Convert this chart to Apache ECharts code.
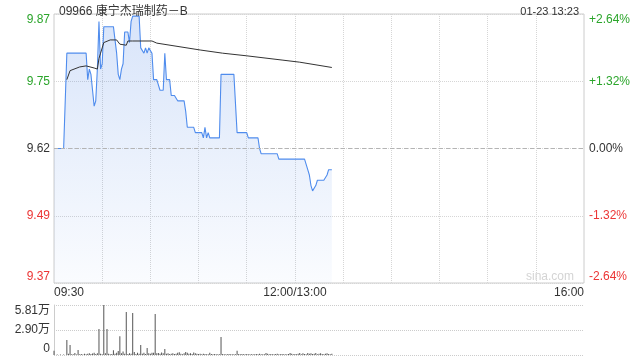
<!DOCTYPE html>
<html><head><meta charset="utf-8">
<script src="https://cdn.jsdelivr.net/npm/echarts@6/dist/echarts.min.js"></script>
<style>html,body{margin:0;padding:0;background:#fff}#c{width:640px;height:360px}</style>
</head><body><div id="c"></div>
<script>
const chartTitle = '09966 康宁杰瑞制药－B';
const stamp = '01-23 13:23';
const prevClose = 9.62;
const pctRange = 2.64;
const pctInterval = 1.32;
const timeTickLabels = { 0: '09:30', 150: '12:00/13:00', 330: '16:00' };

// price per minute from 09:30 (index 0)
const prices = [
  9.62,9.62,9.62,9.62,9.62,9.62,9.62,9.62,
  9.80,9.80,9.80,9.80,9.80,9.80,9.80,9.80,9.80,9.80,9.80,9.80,9.80,
  9.75,9.77,9.76,9.73,9.70,9.71,9.77,9.86,9.77,9.78,
  9.85,9.85,9.85,9.85,9.85,9.85,9.85,9.85,
  9.80,9.76,9.75,9.77,9.78,9.84,9.84,9.84,9.82,9.86,
  9.87,9.87,9.87,9.87,9.87,
  9.81,9.81,9.80,9.81,9.80,9.81,9.81,9.80,
  9.75,9.75,9.75,9.75,
  9.73,9.73,9.73,
  9.80,
  9.75,9.75,9.75,
  9.72,9.72,9.72,9.72,
  9.71,9.71,9.71,9.71,9.71,
  9.69,
  9.66,9.66,9.66,9.66,9.66,
  9.65,9.65,9.65,9.65,9.65,
  9.64,9.66,9.64,9.65,
  9.64,9.64,9.64,9.64,9.64,9.64,9.64,
  9.76,9.76,9.76,9.76,9.76,9.76,9.76,9.76,9.76,9.76,
  9.65,9.65,9.65,9.65,9.65,9.65,9.65,
  9.64,9.64,9.64,9.64,9.64,9.64,9.64,
  9.62,
  9.61,9.61,9.61,9.61,9.61,9.61,9.61,9.61,9.61,9.61,9.61,
  9.60,9.60,9.60,9.60,9.60,9.60,9.60,9.60,9.60,9.60,9.60,9.60,9.60,9.60,9.60,9.60,9.60,9.60,
  9.58,9.57,9.55,
  9.54,9.54,
  9.55,
  9.56,9.56,9.56,9.56,9.56,9.56,
  9.57,
  9.58,9.58,9.58
];

// average price line, read at selected minutes
const avgMinutes = [8,10,16,20,25,27,28,29,31,35,39,41,45,46,49,61,64,91,105,120,142,153,173];
const avgValues  = [9.750,9.767,9.774,9.776,9.772,9.770,9.790,9.800,9.820,9.825,9.825,9.817,9.815,9.823,9.823,9.823,9.819,9.806,9.800,9.795,9.787,9.783,9.773];

const volumes = [
  5000,0,500,0,600,0,500,0,
  17400,1500,11600,1000,800,2300,600,5800,800,1200,700,1500,1000,
  1500,2000,1200,1800,2700,1200,2000,30200,1500,1000,
  58100,2000,30200,1500,800,1200,5400,1500,
  2500,4600,21700,2000,4000,1500,50000,1200,2000,1500,
  48800,3500,1200,2500,1500,
  11600,1500,2500,1200,8000,2000,1500,2500,
  2500,47600,2000,2300,
  1500,2800,2000,
  7000,
  1500,2000,1200,
  1500,2000,1200,1500,
  2500,3200,1500,1000,2000,
  3500,
  2500,1500,2000,1200,3000,
  2000,1500,1200,1500,1000,
  1500,1200,1000,1000,
  2700,1200,1000,1200,800,1000,800,
  20900,1200,1000,800,1000,1200,800,1000,800,1000,
  5000,1200,1000,1200,800,1000,1200,
  800,1000,1000,800,1000,1200,800,
  1500,
  1000,800,1000,2300,1500,1000,1200,800,1000,1200,1500,
  1000,800,1200,1000,800,1000,1200,2300,1500,1000,1200,1000,1500,2300,1000,2000,1200,1000,
  2300,1500,2000,
  1200,1500,
  2300,
  1000,1500,2000,1200,1000,1500,
  2000,
  1200,1000,1500
];
const volMax = 58100;
const volTickLabels = ['0', '2.90万', '5.81万'];

// categories: minutes of the trading day
const categories = [];
for (let m = 0; m <= 330; m++) {
  let t = m <= 150 ? 9 * 60 + 30 + m : 13 * 60 + (m - 150);
  categories.push(String(Math.floor(t / 60)).padStart(2, '0') + ':' + String(t % 60).padStart(2, '0'));
}

const pctData = prices.map(p => +(((p - prevClose) / prevClose) * 100).toFixed(4));
const avgData = prices.map(() => null);
avgMinutes.forEach((m, i) => { avgData[m] = +(((avgValues[i] - prevClose) / prevClose) * 100).toFixed(4); });

const GREEN = '#2ba52b', RED = '#ec3535', DARK = '#333';
const colorFor = v => (Math.abs(v) < 1e-6 ? DARK : (v > 0 ? GREEN : RED));
const FONT = "'Liberation Sans', Arial, 'Noto Sans CJK SC', sans-serif";

const chart = echarts.init(document.getElementById('c'), null, { renderer: 'canvas' });
chart.setOption({
  animation: false,
  backgroundColor: '#fff',
  textStyle: { fontFamily: FONT },
  title: [
    { text: chartTitle, left: 54, top: 1, textStyle: { fontSize: 12, fontWeight: 'normal', color: DARK, fontFamily: FONT } },
    { text: stamp, right: 56, top: 1, textStyle: { fontSize: 11, fontWeight: 'normal', color: DARK, fontFamily: FONT } }
  ],
  graphic: [
    { type: 'text', right: 66, top: 271, style: { text: 'sina.com', fill: '#d4d4d4', font: "12px " + FONT } }
  ],
  grid: [
    { left: 54, right: 56, top: 14, height: 269, show: true, borderColor: '#cccccc', borderWidth: 1, backgroundColor: 'transparent' },
    { left: 54, right: 56, top: 305, height: 50 }
  ],
  xAxis: [
    {
      type: 'category', gridIndex: 0, data: categories, boundaryGap: false,
      axisLine: { show: false }, axisTick: { show: false },
      axisLabel: {
        interval: i => i === 0 || i === 150 || i === 330,
        formatter: (v, i) => timeTickLabels[i] || '',
        color: DARK, fontSize: 12, margin: 4, fontFamily: FONT,
        alignMinLabel: 'left', alignMaxLabel: 'right', showMinLabel: true, showMaxLabel: true
      },
      splitLine: { show: true, interval: i => i % 30 === 0 && i > 0 && i < 330, lineStyle: { color: '#d6d6d6', type: 'dotted', width: 1 } }
    },
    {
      type: 'category', gridIndex: 1, data: categories, boundaryGap: false,
      axisLine: { show: false }, axisTick: { show: false }, axisLabel: { show: false }, splitLine: { show: false }
    }
  ],
  yAxis: [
    {
      type: 'value', gridIndex: 0, min: -pctRange, max: pctRange, interval: pctInterval,
      axisLine: { show: false }, axisTick: { show: false },
      axisLabel: {
        formatter: v => (prevClose * (1 + v / 100)).toFixed(2),
        color: v => colorFor(v), fontSize: 12, margin: 4, fontFamily: FONT,
        verticalAlignMaxLabel: 'top', verticalAlignMinLabel: 'bottom'
      },
      splitLine: { show: true, lineStyle: { color: '#d6d6d6', type: 'dotted', width: 1 } }
    },
    {
      type: 'value', gridIndex: 0, position: 'right', min: -pctRange, max: pctRange, interval: pctInterval,
      axisLine: { show: false }, axisTick: { show: false },
      axisLabel: {
        formatter: v => (v > 1e-6 ? '+' : '') + (Math.abs(v) < 1e-6 ? '0.00' : v.toFixed(2)) + '%',
        color: v => colorFor(v), fontSize: 12, margin: 5, fontFamily: FONT,
        verticalAlignMaxLabel: 'top', verticalAlignMinLabel: 'bottom'
      },
      splitLine: { show: false }
    },
    {
      type: 'value', gridIndex: 1, min: 0, max: volMax, interval: volMax / 2,
      axisLine: { show: true, lineStyle: { color: '#cccccc' } }, axisTick: { show: false },
      axisLabel: {
        formatter: (v, i) => volTickLabels[i] || '', color: DARK, fontSize: 12, margin: 4, fontFamily: FONT,
        verticalAlignMaxLabel: 'top', verticalAlignMinLabel: 'bottom'
      },
      splitLine: { show: true, lineStyle: { color: '#cccccc', type: 'dotted', width: 1 } }
    }
  ],
  series: [
    {
      type: 'line', xAxisIndex: 0, yAxisIndex: 0, data: pctData, showSymbol: false, symbol: 'none',
      lineStyle: { color: '#4f8ced', width: 1.1 },
      areaStyle: {
        origin: 'start',
        color: new echarts.graphic.LinearGradient(0, 0, 0, 1, [
          { offset: 0, color: 'rgba(72,130,230,0.30)' },
          { offset: 1, color: 'rgba(72,130,230,0.04)' }
        ])
      },
      markLine: {
        silent: true, symbol: 'none', label: { show: false },
        lineStyle: { color: '#b4b4b4', type: [4, 3], width: 1 },
        data: [{ yAxis: 0 }]
      },
      z: 3
    },
    {
      type: 'line', xAxisIndex: 0, yAxisIndex: 0, data: avgData, connectNulls: true, showSymbol: false, symbol: 'none',
      lineStyle: { color: '#333', width: 1 }, z: 4
    },
    {
      type: 'bar', xAxisIndex: 1, yAxisIndex: 2, data: volumes, barWidth: 1,
      itemStyle: { color: '#555' }
    }
  ]
});
</script>
</body></html>
